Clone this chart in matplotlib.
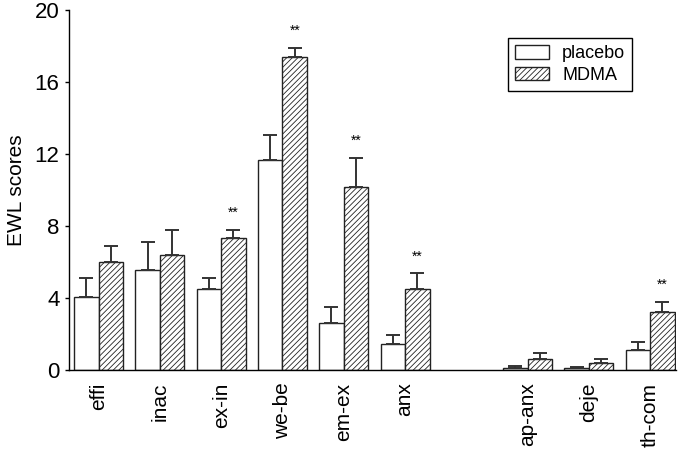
import numpy as np
import matplotlib
matplotlib.use('Agg')
import matplotlib.pyplot as plt

plt.rcParams['font.family'] = ['Liberation Sans', 'DejaVu Sans']
plt.rcParams['hatch.color'] = '#555555'
plt.rcParams['hatch.linewidth'] = 0.6

categories = ['effi', 'inac', 'ex-in', 'we-be', 'em-ex', 'anx', 'ap-anx', 'deje', 'th-com']
slots = [0, 1, 2, 3, 4, 5, 7, 8, 9]
placebo = [4.07, 5.54, 4.48, 11.67, 2.61, 1.43, 0.11, 0.09, 1.09]
placebo_err = [1.02, 1.55, 0.61, 1.37, 0.87, 0.50, 0.13, 0.09, 0.45]
mdma = [5.98, 6.37, 7.31, 17.37, 10.17, 4.50, 0.63, 0.39, 3.24]
mdma_err = [0.91, 1.39, 0.49, 0.53, 1.63, 0.87, 0.33, 0.24, 0.56]
signif = [False, False, True, True, True, True, False, False, True]

x = np.array(slots, dtype=float)
w = 0.4

fig = plt.figure(figsize=(6.78, 4.53), dpi=100)
ax = fig.add_axes([0.102, 0.183, 0.895, 0.795])

ekw = dict(ecolor='#333333', elinewidth=1.4, capsize=5, capthick=1.4)
ax.bar(x - w / 2, placebo, w, color='white', edgecolor='#222222', linewidth=1.0,
       yerr=[np.zeros(len(placebo)), placebo_err], error_kw=ekw, label='placebo', zorder=2)
ax.bar(x + w / 2, mdma, w, color='white', edgecolor='#222222', linewidth=1.0, hatch='//////',
       yerr=[np.zeros(len(mdma)), mdma_err], error_kw=ekw, label='MDMA', zorder=2)

for xi, m, e, s in zip(x, mdma, mdma_err, signif):
    if s:
        ax.annotate('**', (xi + w / 2, m + e), xytext=(0, 7), textcoords='offset points',
                    ha='center', va='bottom', fontsize=10)

ax.set_xlim(-0.48, 9.42)
ax.set_ylim(0, 20)
ax.set_yticks([0, 4, 8, 12, 16, 20])
ax.set_xticks(x)
ax.set_xticklabels(categories, rotation=90, fontsize=15)
ax.tick_params(axis='x', length=0, pad=9)
ax.tick_params(axis='y', labelsize=16, length=3, width=1, direction='out', pad=4)
ax.set_ylabel('EWL scores', fontsize=15, labelpad=6)
for sp in ['top', 'right']:
    ax.spines[sp].set_visible(False)
ax.spines['left'].set_linewidth(1.0)
ax.spines['bottom'].set_linewidth(1.0)

leg = ax.legend(loc='upper left', bbox_to_anchor=(0.723, 0.923), fontsize=13, fancybox=False,
                edgecolor='black', framealpha=1, handlelength=1.9, handleheight=0.8,
                handletextpad=0.7, borderpad=0.4, labelspacing=0.25, borderaxespad=0)
leg.get_frame().set_linewidth(1.0)

fig.savefig('out.png', dpi=100)
